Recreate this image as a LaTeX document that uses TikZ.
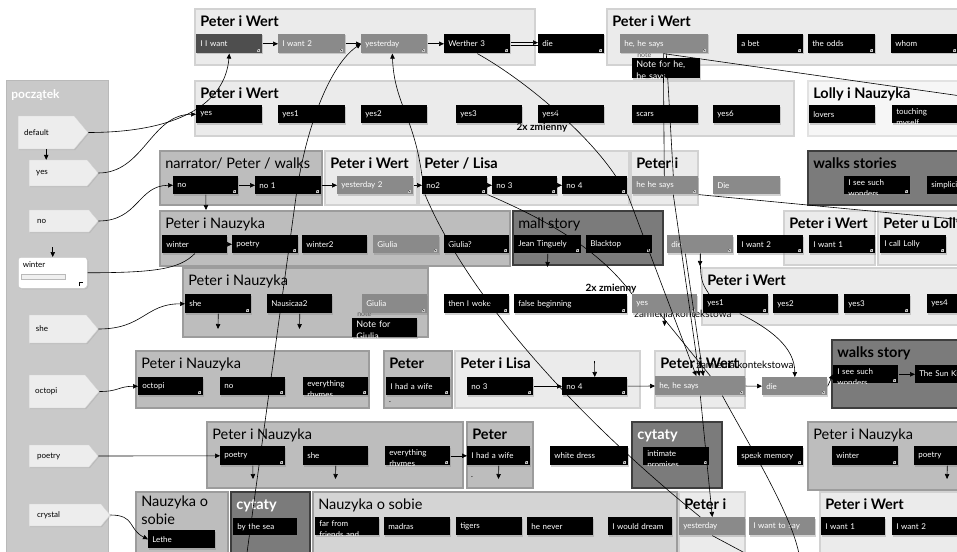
\documentclass[tikz,border=0pt]{standalone}
\usepackage{fontspec}
\setmainfont{Lato}
\usetikzlibrary{arrows.meta,shapes.symbols,shadows}

\definecolor{lfill}{HTML}{EBEBEB}
\definecolor{lline}{HTML}{D2D2D2}
\definecolor{vfill}{HTML}{F6F6F6}
\definecolor{vline}{HTML}{E2E2E2}
\definecolor{sfill}{HTML}{D4D4D4}
\definecolor{mfill}{HTML}{BDBDBD}
\definecolor{mline}{HTML}{9C9C9C}
\definecolor{dfill}{HTML}{7B7B7B}
\definecolor{dline}{HTML}{3E3E3E}
\definecolor{pfill}{HTML}{C9C9C9}
\definecolor{tagfill}{HTML}{EDEDED}
\definecolor{midbox}{HTML}{8A8A8A}
\definecolor{darkbox}{HTML}{4E4E4E}

\newcommand\boxfont{\fontsize{8}{11}\selectfont}
\newcommand\ttlfont{\fontsize{14.5}{18}\selectfont}
\newcommand\lblfont{\fontsize{10}{12}\selectfont}
% text that runs past the bottom of its box is cut off
\newcommand\cuttext[3][]{%
  \begin{scope}
    \clip (#2.north west) rectangle (#2.south east);
    \node[ctxt,#1] (#2t) at (#2.north west) {#3};
  \end{scope}}

\begin{document}
\begin{tikzpicture}[x=1pt,y=-1pt,line width=0.6pt,
  >={Triangle[length=5pt,width=4.5pt]},
  lfr/.style={fill=lfill,draw=lline,line width=1.2pt},
  vfr/.style={fill=vfill,draw=vline,line width=1.2pt},
  sfr/.style={fill=sfill,draw=mline,line width=1.2pt},
  mfr/.style={fill=mfill,draw=mline,line width=1.2pt},
  dfr/.style={fill=dfill,draw=dline,line width=1.2pt},
  ttl/.style={anchor=base west,inner sep=0pt,font=\ttlfont},
  bttl/.style={ttl,font=\ttlfont\bfseries},
  box/.style={anchor=north west,inner xsep=4pt,inner ysep=0pt,
    text width=58pt,minimum height=19pt,align=left,text=white,
    font=\boxfont,drop shadow={shadow xshift=1pt,shadow yshift=-1.2pt,opacity=.35}},
  bk/.style={box,fill=black},
  mg/.style={box,fill=midbox},
  ctxt/.style={anchor=north west,inner xsep=4pt,inner ysep=3pt,
    text width=58pt,align=left,text=white,font=\boxfont},
  tag/.style={signal,signal to=east,signal pointer angle=100,anchor=west,
    fill=tagfill,draw=gray!35,line width=0.4pt,text width=44pt,
    minimum width=69pt,inner xsep=6pt,align=left,font=\boxfont,
    drop shadow={shadow xshift=1pt,shadow yshift=-1pt,opacity=.2}},
  lbl/.style={font=\lblfont},
  ntag/.style={anchor=north west,inner sep=1pt,text=gray!70!black,
    font=\fontsize{7}{8}\selectfont}]

\useasboundingbox (0,0) rectangle (957,551);
\clip (0,0) rectangle (957,551);
\fill[white] (0,0) rectangle (957,551);

% start panel
\draw[fill=pfill,draw=gray!55,line width=1pt] (6,80) rectangle (108,560);
\node[anchor=base west,inner sep=0pt,text=white,
  font=\fontsize{12}{14}\selectfont\bfseries] (tStart) at (11,98) {początek};
\node[tag,minimum height=33pt] (tDefault) at (18,132.5) {default};
\node[tag,minimum height=26pt] (tYes) at (29,173) {yes};
\node[tag,minimum height=22pt] (tNo) at (29,221) {no};
\node[anchor=north west,rounded corners=3pt,fill=white,draw=gray!45,
  line width=0.5pt,minimum width=69pt,text width=60pt,inner xsep=4pt,
  inner ysep=4pt,text height=6pt,text depth=17pt,align=left,font=\boxfont,
  drop shadow={shadow xshift=1pt,shadow yshift=-1pt,opacity=.2}]
  (tWinter) at (18,257) {winter};
\draw[gray!55,fill=gray!12,line width=0.5pt] (21,274) rectangle (65,279);
\draw[line width=0.6pt] (79,286) -- (79,282) -- (83,282);
\node[tag,minimum height=28pt] (tShe) at (29,329) {she};
\node[tag,minimum height=33pt] (tOctopi) at (29,391.5) {octopi};
\node[tag,minimum height=22pt] (tPoetry) at (29,456) {poetry};
\node[tag,minimum height=22pt,minimum width=81pt,text width=56pt]
  (tCrystal) at (29,515) {crystal};

% groups
\draw[lfr] (195,9) rectangle (535,65);
\node[bttl] (tiG1) at (200,27) {Peter i Wert};
\draw[lfr] (607,9) rectangle (970,65);
\node[bttl] (tiG2) at (612,27) {Peter i Wert};
\draw[lfr] (195,81) rectangle (794,136);
\node[bttl] (tiG3) at (200,98) {Peter i Wert};
\draw[vfr] (808,81) rectangle (970,136);
\node[bttl] (tiG4) at (813,98) {Lolly i Nauzyka};
\draw[mfr] (160,151) rectangle (322,205);
\node[ttl] (tiG5) at (165,168) {narrator/ Peter / walks};
\draw[lfr] (325,151) rectangle (417,205);
\node[bttl] (tiG6) at (330,168) {Peter i Wert};
\draw[lfr] (419,151) rectangle (629,205);
\node[bttl] (tiG7) at (424,168) {Peter / Lisa};
\draw[lfr] (631,151) rectangle (698,205);
\node[bttl] (tiG8) at (636,168) {Peter i};
\draw[dfr] (808,151) rectangle (970,205);
\node[bttl] (tiG9) at (813,168) {walks stories};
\draw[mfr] (160,211) rectangle (510,266);
\node[ttl] (tiG10) at (165,228) {Peter i Nauzyka};
\draw[dfr] (513,211) rectangle (663,265);
\node[ttl] (tiG11) at (518,228) {mall story};
\draw[lfr] (784,211) rectangle (875,265);
\node[bttl] (tiG12) at (789,228) {Peter i Wert};
\draw[lfr] (878,211) rectangle (970,265);
\node[bttl] (tiG13) at (883,228) {Peter u Lolly};
\draw[mfr] (183,268) rectangle (428,337);
\node[ttl] (tiG14) at (188,285) {Peter i Nauzyka};
\draw[lfr] (702,268) rectangle (970,325);
\node[bttl] (tiG15) at (707,285) {Peter i Wert};
\draw[mfr] (136,351) rectangle (369,408);
\node[ttl] (tiG16) at (141,368) {Peter i Nauzyka};
\draw[mfr] (384,351) rectangle (452,408);
\node[bttl] (tiG17) at (389,368) {Peter};
\draw[lfr] (455,351) rectangle (640,408);
\node[bttl] (tiG18) at (460,368) {Peter i Lisa};
\draw[lfr] (655,351) rectangle (745,408);
\node[bttl] (tiG19) at (660,368) {Peter i Wert};
\draw[dfr] (832,340) rectangle (970,408);
\node[bttl] (tiG20) at (837,357) {walks story};
\draw[mfr] (207,422) rectangle (463,488);
\node[ttl] (tiG21) at (212,439) {Peter i Nauzyka};
\draw[mfr] (467,422) rectangle (533,488);
\node[bttl] (tiG22) at (472,439) {Peter};
\draw[dfr] (632,422) rectangle (722,488);
\node[bttl,text=white] (tiG23) at (637,439) {cytaty};
\draw[mfr] (808,422) rectangle (970,490);
\node[ttl] (tiG24) at (813,439) {Peter i Nauzyka};
\draw[mfr] (136,492) rectangle (228,560);
\node[ttl,anchor=north west,align=left] (tiG25) at (141,496) {Nauzyka o\\sobie};
\draw[dfr] (231,492) rectangle (310,560);
\node[bttl,text=white] (tiG26) at (236,509) {cytaty};
\draw[sfr] (313,492) rectangle (677,560);
\node[ttl] (tiG27) at (318,509) {Nauzyka o sobie};
\draw[lfr] (679,492) rectangle (745,560);
\node[bttl] (tiG28) at (684,509) {Peter i};
\draw[lfr] (820,492) rectangle (970,560);
\node[bttl] (tiG29) at (825,509) {Peter i Wert};

% remarks
\node[lbl,font=\lblfont\bfseries] (zm1) at (542,128) {2x zmienny};
\node[lbl,font=\lblfont\bfseries] (zm2) at (611,289) {2x zmienny};
\node[lbl] (zk1) at (683,314) {zamienia kontekstowa};
\node[lbl] (zk2) at (745,365) {zamienia kontekstowa};
\node[ntag] (nt1) at (636,52) {note};
\node[ntag] (nt2) at (356,310) {note};

% row 1
\node[bk,fill=darkbox] (iiwant) at (196,34) {I I want};
\node[mg,text width=59pt] (iwant2) at (278,34) {I want 2};
\node[mg] (yesterday) at (361,34) {yesterday};
\node[bk] (werther) at (444,34) {Werther 3};
\node[bk] (die1) at (538,34) {die};
\node[mg,text width=80pt] (hehe1) at (620,34) {he, he says};
\node[bk] (abet) at (737,34) {a bet};
\node[bk,text width=59pt] (odds) at (808,34) {the odds};
\node[bk,text width=59pt] (whom) at (891,34) {whom};
\node[bk,minimum height=20pt,text width=60pt] (note1) at (632,58) {};

% row 2
\node[bk,minimum height=18pt] (yesA) at (196,105) {yes};
\node[bk,minimum height=18pt,text width=59pt] (yes1A) at (278,105) {yes1};
\node[bk,minimum height=18pt] (yes2A) at (361,105) {yes2};
\node[bk,minimum height=18pt] (yes3A) at (456,105) {yes3};
\node[bk,minimum height=18pt] (yes4A) at (538,105) {yes4};
\node[bk,minimum height=18pt] (scars) at (632,105) {scars};
\node[bk,minimum height=18pt,text width=59pt] (yes6) at (713,105) {yes6};
\node[bk,minimum height=18pt] (lovers) at (809,105) {lovers};
\node[bk,minimum height=18pt] (touching) at (892,105) {};

% row 3
\node[bk,minimum height=18pt,text width=57pt] (noN) at (173,176) {no};
\node[bk,minimum height=18pt] (no1) at (255,176) {no 1};
\node[mg,minimum height=18pt,text width=68pt] (yday2) at (337,176) {yesterday 2};
\node[bk,minimum height=18pt,text width=57pt] (no2) at (422,176) {no2};
\node[bk,minimum height=18pt,text width=57pt] (no3) at (492,176) {no 3};
\node[bk,minimum height=18pt,text width=57pt] (no4) at (562,176) {no 4};
\node[mg,minimum height=18pt] (hehe8) at (632,176) {he he says};
\node[mg,minimum height=18pt,text width=59pt] (dieD) at (713,176) {Die};
\node[bk,minimum height=18pt] (isee) at (844,176) {};
\node[bk,minimum height=18pt] (simplic) at (927,176) {simplicity};

% row 4
\node[bk,minimum height=18pt,text width=57pt] (winterA) at (162,235) {winter};
\node[bk,minimum height=18pt] (poetryA) at (232,235) {poetry};
\node[bk,minimum height=18pt,text width=57pt] (winter2) at (302,235) {winter2};
\node[mg,minimum height=18pt] (giulia) at (373,235) {Giulia};
\node[bk,minimum height=18pt,text width=57pt] (giulia2) at (444,235) {Giulia?};
\node[bk,minimum height=18pt,text width=59pt] (jean) at (514,235) {Jean Tinguely};
\node[bk,minimum height=18pt] (blacktop) at (586,235) {Blacktop};
\node[mg,minimum height=18pt] (die4) at (667,235) {die};
\node[bk,minimum height=18pt] (iwant2b) at (737,235) {I want 2};
\node[bk,minimum height=18pt] (iwant1b) at (809,235) {I want 1};
\node[bk,minimum height=18pt] (calllolly) at (880,235) {I call Lolly};

% row 5
\node[bk] (sheA) at (185,294) {she};
\node[bk,text width=57pt] (nausicaa) at (267,294) {Nausicaa2};
\node[mg,text width=57pt] (giuliaB) at (362,294) {Giulia};
\node[bk,text width=57pt] (note2) at (352,318) {};
\node[bk,text width=57pt] (thenwoke) at (444,294) {then I woke};
\node[bk,text width=105pt] (falsebeg) at (514,294) {false beginning};
\node[mg,text width=57pt] (yes5) at (632,294) {yes};
\node[bk,text width=57pt] (yes1C) at (703,294) {yes1};
\node[bk,text width=57pt] (yes2C) at (773,294) {yes2};
\node[bk] (yes3C) at (844,294) {yes3};
\node[bk] (yes4C) at (927,294) {yes4};

% row 6
\node[bk,minimum height=18pt,text width=57pt] (octopiA) at (138,377) {octopi};
\node[bk,minimum height=18pt,text width=57pt] (noB) at (220,377) {no};
\node[bk,minimum height=18pt,text width=57pt] (everyA) at (303,377) {};
\node[bk,minimum height=18pt,text width=56pt] (wifeA) at (386,377) {I had a wife};
\node[inner sep=0pt,font=\boxfont] (dotA) at (390,402) {.};
\node[bk,minimum height=18pt] (no3B) at (467,377) {no 3};
\node[bk,minimum height=18pt,text width=57pt] (no4B) at (562,377) {no 4};
\node[mg,text width=82pt] (hehe19) at (655,376) {he, he says};
\node[mg,minimum height=18pt,text width=57pt] (die6) at (762,377) {die};
\node[bk,minimum height=18pt,text width=57pt] (isee20) at (833,365) {};
\node[bk,minimum height=18pt] (sunk) at (915,365) {The Sun King};

% row 7
\node[bk,text width=57pt] (poetryB) at (220,446) {poetry};
\node[bk,text width=57pt] (sheB) at (303,446) {she};
\node[bk,text width=57pt] (everyB) at (385,446) {};
\node[bk,text width=55pt] (wifeB) at (467,446) {I had a wife};
\node[inner sep=0pt,font=\boxfont] (dotB) at (472,477) {.};
\node[bk,text width=70pt] (whitedress) at (550,446) {white dress};
\node[bk,minimum height=18pt] (intimate) at (643,447) {};
\node[bk] (speak) at (737,446) {speak memory};
\node[bk] (winterC) at (832,446) {winter};
\node[bk] (poetryC) at (914,446) {poetry};

% row 8
\node[bk,minimum height=18pt,text width=59pt] (lethe) at (148,530) {Lethe};
\node[bk,minimum height=17pt,text width=56pt] (bysea) at (233,518) {by the sea};
\node[bk,minimum height=18pt,text width=56pt] (farfrom) at (315,517) {};
\node[bk,minimum height=18pt] (madras) at (384,517) {madras};
\node[bk,minimum height=18pt] (tigers) at (456,517) {tigers};
\node[bk,minimum height=18pt] (henever) at (527,517) {he never};
\node[bk,minimum height=18pt,text width=56pt] (idream) at (608,517) {I would dream};
\node[mg,minimum height=18pt] (yday28) at (679,517) {yesterday};
\node[mg,minimum height=18pt] (iwantsay) at (749,517) {I want to say};
\node[bk,minimum height=18pt,text width=56pt] (iwant1C) at (821,517) {I want 1};
\node[bk,minimum height=18pt] (iwant2C) at (892,517) {I want 2};

\cuttext[font=\fontsize{9}{12}\selectfont]{note1}{Note for he,\\he says}
\cuttext[font=\fontsize{9}{12}\selectfont]{note2}{Note for\\Giulia}
\cuttext{touching}{touching\\myself}
\cuttext{isee}{I see such\\wonders}
\cuttext{isee20}{I see such\\wonders}
\cuttext{everyA}{everything\\rhymes}
\cuttext{everyB}{everything\\rhymes}
\cuttext{intimate}{intimate\\promises}
\cuttext{farfrom}{far from\\friends and}

% corner marks
\foreach \n in {iiwant,iwant2,yesterday,werther,die1,hehe1,abet,odds,whom,
    noN,no1,yday2,no2,no3,no4,hehe8,isee,poetryA,giulia,giulia2,jean,
    blacktop,die4,iwant2b,iwant1b,calllolly,sheA,giuliaB,thenwoke,falsebeg,
    yes5,yes1C,yes3C,octopiA,noB,everyA,wifeA,no3B,no4B,hehe19,die6,isee20,
    poetryB,everyB,wifeB,whitedress,intimate,speak,winterC}
  {\fill[gray!45] ([xshift=-6pt,yshift=2pt]\n.south east) rectangle ++(3.2pt,2.8pt);
   \draw[black,line width=0.3pt] ([xshift=-5.4pt,yshift=4.2pt]\n.south east) -- ++(1.8pt,-1.6pt);}

% free ends
\coordinate (sNoN) at (206,210);
\coordinate (sSheA) at (218,329);
\coordinate (sNaus) at (299.5,329);
\coordinate (sJean) at (547.5,267);
\coordinate (sDie4) at (700,266);
\coordinate (sYes5) at (664.5,326);
\coordinate (sNo4B) at (594.5,361);
\coordinate (sPoetryB) at (253,479);
\coordinate (sSheB) at (335.5,479);
\coordinate (sWifeB) at (498.5,479);
\coordinate (sPoetryC) at (947,479);
\coordinate (bL) at (246,560);
\coordinate (bR) at (800,560);
\coordinate (bY) at (758,560);
\coordinate (eR1) at (975,98);
\coordinate (eR2) at (975,221);

% links from the start panel
\draw[->] (tDefault.south) -- (tDefault.south |- tYes.north);
\draw[->] ([yshift=10pt]tWinter.north) -- (tWinter.north);
\draw[->] (tDefault.east) .. controls +(90,0) and +(-4,50) .. (iiwant.south);
\draw[->] (tYes.east) .. controls +(45,0) and +(-45,0) .. (yesA.west);
\draw[->] (tNo.east) .. controls +(40,0) and +(-35,0) .. (noN.west);
\draw (tWinter.east) .. controls +(70,0) and +(-15,15) .. (winterA.south);
\draw[->] (tShe.east) .. controls +(45,0) and +(-40,0) .. (sheA.west);
\draw[->] (tOctopi.east) .. controls +(20,0) and +(-20,0) .. (octopiA.west);
\draw[->] (tPoetry.east) -- (poetryB.west);
\draw[->] (tCrystal.east) .. controls +(25,0) and +(-20,-10) .. (lethe.west);

% sequences
\draw[->] (iiwant) -- (iwant2);
\draw[->] (iwant2) -- (yesterday);
\draw[->] (yesterday) -- (werther);
\draw[->] ([yshift=1.2pt]werther.east) -- ([yshift=1.2pt]die1.west);
\draw ([yshift=-1.2pt]werther.east) -- ([yshift=-1.2pt]die1.west);
\draw[->] (noN) -- (no1);
\draw[->] (no1) -- (yday2);
\draw[->] (yday2) -- (no2);
\draw[->] (no2) -- (no3);
\draw[->] (no3) -- (no4);
\draw[->] (winterA) -- (poetryA);
\draw[->] (no3B) -- (no4B);
\draw[->] (no4B) -- (hehe19);
\draw[->] (hehe19) -- (die6);
\draw[->] (die6.east) -- (isee20.west);
\draw[->] (isee20) -- (sunk);
\draw[->] (everyB) -- (wifeB);

% short drops
\draw[->] (noN.south) -- (sNoN);
\draw[->] (sheA.south) -- (sSheA);
\draw[->] (nausicaa.south) -- (sNaus);
\draw[->] (jean.south) -- (sJean);
\draw[->] (die4.south) -- (sDie4);
\draw[->] (yes5.south) -- (sYes5);
\draw[->] (sNo4B) -- (no4B.north);
\draw[->] (poetryB.south) -- (sPoetryB);
\draw[->] (sheB.south) -- (sSheB);
\draw[->] (wifeB.south) -- (sWifeB);
\draw[->] (poetryC.south) -- (sPoetryC);

% long links
\draw[->] (bL) -- ([xshift=8pt]no1.south)
  .. controls +(10,-70) and +(-30,20) .. (yesterday.west);
\draw[->] (no2.north west) .. controls +(-8,-60) and +(2,50) .. ([xshift=-2pt]yesterday.south);
\draw (werther.south) .. controls +(45,25) and +(-30,-45) .. ([xshift=-12pt]no4.north east);
\draw ([xshift=-1pt]hehe1.south) -- ([xshift=-1pt]hehe8.north);
\draw ([xshift=2pt]hehe1.south) -- ([xshift=8pt]hehe8.north);
\draw ([xshift=-1pt]hehe1.south) -- (eR1);
\draw (hehe8.south east) -- (eR2);
\draw ([xshift=3pt]no2.south west) .. controls +(45,106) and +(-120,-97) .. ([xshift=-12pt]yday28.north);
\draw (no2.south east) .. controls +(70,30) and +(-30,-40) .. (yes5.north west);
\draw[->] (no4.south east) -- ([xshift=-4pt]hehe19.north);
\draw[->] ([xshift=8pt]hehe8.south) -- ([xshift=-1pt]hehe19.north);
\draw[->] ([xshift=-15pt]die4.south) -- ([xshift=3pt]hehe19.north);
\draw ([xshift=-5pt]yes5.south) -- ([xshift=10pt]hehe19.north);
\draw (die4.south) .. controls +(0,25) and +(-8,-12) .. ([xshift=6pt]yes1C.north west);
\draw[->] ([xshift=4pt]yes1C.south) .. controls +(30,15) and +(0,-30) .. (die6.north);
\draw[->] (hehe19.south) -- (yday28.north);
\draw ([xshift=22pt]hehe19.south) .. controls +(30,55) and +(-5,-40) .. (bR);
\draw (yday28.south) -- (bY);
\end{tikzpicture}
\end{document}
